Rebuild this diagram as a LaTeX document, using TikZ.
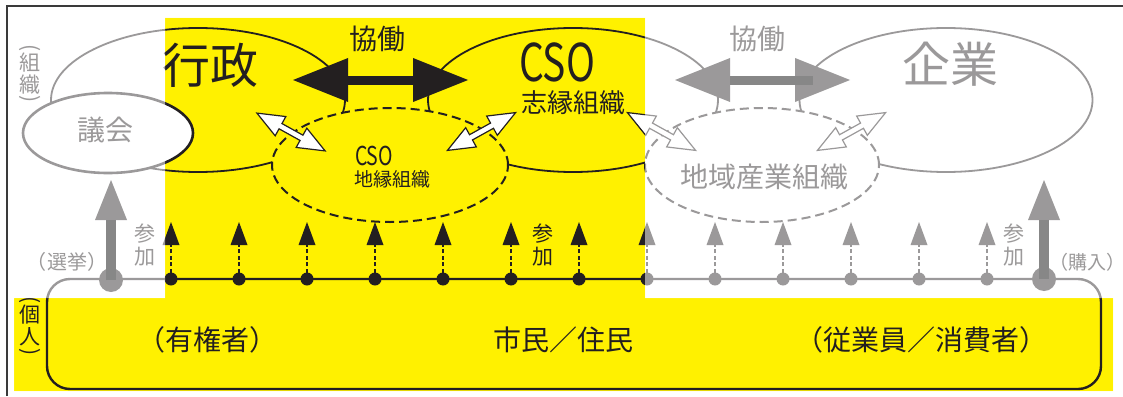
\documentclass[tikz,border=0pt]{standalone}
\usepackage{fontspec}
\usepackage{graphicx}
\setmainfont{Noto Sans CJK JP}
\usetikzlibrary{arrows.meta,shapes.geometric}
\definecolor{ink}{HTML}{231F20}
\definecolor{yel}{HTML}{FFF100}
\definecolor{shaftgray}{HTML}{878787}
\definecolor{framecol}{HTML}{3A3A3A}
\newcommand{\fs}[1]{\fontsize{#1}{#1}\selectfont}
\newcommand{\lp}{\makebox[0.62em][r]{（}}
\newcommand{\rp}{\makebox[0.62em][l]{）}}
\newcommand{\wdarrow}[2]{%
  \begin{scope}[shift={#1}, rotate=#2]
    \draw[warrow] (-39,0) -- (-12,11) -- (-12,3) -- (12,3) -- (12,11) -- (39,0)
      -- (12,-11) -- (12,-3) -- (-12,-3) -- (-12,-11) -- cycle;
  \end{scope}}
\begin{document}
\begin{tikzpicture}[x=1pt,y=-1pt,
  every node/.style={text=ink, inner sep=0pt, outer sep=0pt},
  ell/.style={ellipse, draw=ink, line width=1.8pt},
  dell/.style={ellipse, draw=ink, line width=2pt, dash pattern=on 9pt off 5pt},
  dotnode/.style={circle, fill=ink, minimum size=13pt},
  bigdot/.style={circle, fill=ink, minimum size=24pt},
  dasharrow/.style={ink, line width=2.8pt, dash pattern=on 4pt off 2.5pt,
     -{Triangle[length=23pt,width=17pt,line width=0pt]}},
  bigarrow/.style={ink, line width=10pt, -{Triangle[length=40pt,width=32pt,line width=0pt]}},
  coop/.style={ink, line width=9pt,
     {Triangle[length=55pt,width=44pt,line width=0pt]}-{Triangle[length=55pt,width=44pt,line width=0pt]}},
  warrow/.style={draw=ink, fill=white, line width=1.2pt, line join=miter},
  vparen/.style={rotate=-90, font=\fs{21}},
  lab/.style={font=\fs{21}}
]
\useasboundingbox (0,0) rectangle (1123,396);
\fill[white] (0,0) rectangle (1123,396);
\fill[yel] (165,18) -- (645,18) -- (645,298) -- (1113,298) -- (1113,391)
  -- (14,391) -- (14,298) -- (165,298) -- cycle;

% large organisation ellipses
\node[ell, minimum width=294pt, minimum height=144pt] (gyosei) at (198,100) {};
\node[ell, minimum width=290pt, minimum height=144pt] (shien) at (573,100) {};
\node[ell, minimum width=293pt, minimum height=144pt] (kigyo) at (946,100) {};
\node[ell, fill=white, line width=2.6pt, minimum width=170pt, minimum height=80pt] (gikai) at (108,133) {};
% dashed ellipses
\node[dell, fill=yel, minimum width=236pt, minimum height=114pt] (chien) at (390,165) {};
\node[dell, fill=white, minimum width=234pt, minimum height=114pt] (chiiki) at (762,165) {};

% texts in ellipses
\node[font=\fs{48}] (tgyosei) at (210,65) {行政};
\node[font=\fs{48}] (tkigyo) at (950,64) {企業};
\node[font=\fs{52}] (tcso) at (557,62) {\scalebox{0.75}[1]{CSO}};
\node[font=\fs{26}] (tshien) at (573.5,103) {志縁組織};
\node[font=\fs{26}] (tcso2) at (374,156) {\scalebox{0.75}[1]{CSO}};
\node[font=\fs{19}] (tchien) at (392,179) {地縁組織};
\node[font=\fs{28}] (tchiiki) at (764,177) {地域産業組織};
\node[font=\fs{28}] (tgikai) at (105,130) {議会};

% cooperation arrows
\node[font=\fs{28}] (kyo1) at (377,39) {協働};
\node[font=\fs{28}] (kyo2) at (757,39) {協働};
\coordinate (c1a) at (293,80); \coordinate (c1b) at (468,80);
\coordinate (c2a) at (675,80); \coordinate (c2b) at (850,80);
\draw[coop] (c1a) -- (c1b);
\draw[coop] (c2a) -- (c2b);

% white double arrows
\wdarrow{(291,132)}{-29}
\wdarrow{(481.5,131.5)}{29}
\wdarrow{(661.5,131.5)}{-29}
\wdarrow{(851.5,131.5)}{29}

% individuals box
\node[draw=ink, line width=2.4pt, rounded corners=23pt, minimum width=1054pt, minimum height=110pt] (people) at (574,334) {};
\node[font=\fs{28}] (tvoter) at (207,340) {\lp 有権者\rp};
\node[font=\fs{28}] (tcitizen) at (563,340) {市民／住民};
\node[font=\fs{28}] (tworker) at (921,340) {\lp 従業員／消費者\rp};

% participation arrows
\foreach \i in {0,...,12}{
  \node[dotnode] (d\i) at ({171+68*\i},279) {};
  \coordinate (t\i) at ({171+68*\i},222);
  \draw[dasharrow] (d\i.center) -- (t\i);
}
\node[bigdot] (vote) at (111,280) {};
\coordinate (votetip) at (111,180);
\draw[bigarrow] (vote.center) -- (votetip);
\node[bigdot] (buy) at (1044,279) {};
\coordinate (buytip) at (1044,180);
\draw[bigarrow] (buy.center) -- (buytip);

% small labels
\foreach \x/\n in {145/a,543/b,1014/c}{
  \node[lab] (san\n) at (\x,234) {参};
  \node[lab] (ka\n) at (\x,257) {加};
}
\node[font=\fs{20}] (tvote) at (67,262) {\lp 選挙\rp};
\node[font=\fs{19}] (tbuy) at (1087,262) {\lp 購入\rp};
% vertical labels
\node[vparen] (o1) at (30,48) {(};
\node[lab] (o2) at (30,63) {組};
\node[lab] (o3) at (30,85) {織};
\node[vparen] (o4) at (30,99) {)};
\node[vparen] (p1) at (30,300) {(};
\node[lab] (p2) at (30,315) {個};
\node[lab] (p3) at (30,337) {人};
\node[vparen] (p4) at (30,352) {)};

% greying veil outside the yellow field
\fill[white, opacity=0.55, even odd rule] (0,0) rectangle (1123,396)
  (165,18) -- (645,18) -- (645,298) -- (1113,298) -- (1113,391)
  -- (14,391) -- (14,298) -- (165,298) -- cycle;

% darker shafts in the grey area
\draw[shaftgray, line width=9pt] (730,80) -- (813,80);
\draw[shaftgray, line width=10pt] (vote.center) -- (111,220);
\draw[shaftgray, line width=10pt] (buy.center) -- (1044,220);

% frame
\draw[framecol, line width=2pt] (7,396) -- (7,6) -- (1123,6);
\end{tikzpicture}
\end{document}
